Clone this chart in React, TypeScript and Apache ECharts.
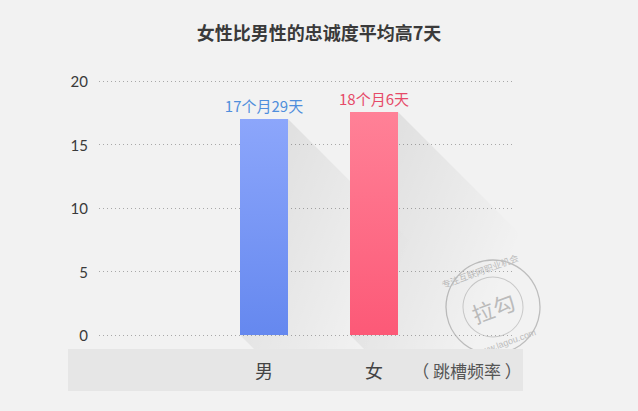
import React, { useEffect, useRef } from "react";
import * as echarts from "echarts";

const titleText = "女性比男性的忠诚度平均高7天";
const categories = ["男", "女"];
const values = [17.0, 17.55];
const valueLabels = ["17个月29天", "18个月6天"];
const labelColors = ["#4f8edc", "#e64a68"];
const barTops = ["#8ca6fb", "#ff8197"];
const barBottoms = ["#6588ef", "#fc5977"];
const yMin = 0;
const yMax = 20;
const yInterval = 5;
const axisNote = "（ 跳槽频率 ）";

const BAR_W = 48;

function clipBelow(points: number[][], yLimit: number): number[][] {
  const out: number[][] = [];
  for (let i = 0; i < points.length; i++) {
    const a = points[i];
    const b = points[(i + 1) % points.length];
    const aIn = a[1] <= yLimit;
    const bIn = b[1] <= yLimit;
    if (aIn) out.push(a);
    if (aIn !== bIn) {
      const t = (yLimit - a[1]) / (b[1] - a[1]);
      out.push([a[0] + t * (b[0] - a[0]), yLimit]);
    }
  }
  return out;
}

export default function App() {
  const ref = useRef<HTMLDivElement>(null);
  useEffect(() => {
    if (!ref.current) return;
    const chart = echarts.init(ref.current, null, { renderer: "svg" });
    const font = "'Noto Sans CJK SC', 'Noto Sans', sans-serif";
    chart.setOption({
      animation: false,
      backgroundColor: "#f2f2f2",
      textStyle: { fontFamily: font },
      title: {
        text: titleText,
        left: "center",
        top: 18,
        textStyle: { fontSize: 18, fontWeight: "bold", color: "#3a3a3a", fontFamily: font },
      },
      grid: [
        { left: 99, right: 123, top: 81, bottom: 76 },
        { left: 209, right: 209, top: 81, bottom: 76 },
      ],
      xAxis: [
        { gridIndex: 0, type: "category", data: ["a"], show: false },
        {
          gridIndex: 1,
          type: "category",
          data: categories,
          z: 10,
          axisLine: { show: false },
          axisTick: { show: false },
          axisLabel: { margin: 26, fontSize: 18, color: "#444", fontFamily: font },
        },
      ],
      yAxis: [
        {
          gridIndex: 0,
          type: "value",
          min: yMin,
          max: yMax,
          interval: yInterval,
          axisLine: { show: false },
          axisTick: { show: false },
          axisLabel: { margin: 11, fontSize: 15, color: "#3a3a3a", fontFamily: "Lato, 'Open Sans', sans-serif" },
          splitLine: { lineStyle: { type: [1, 3], color: "#a8a8a8", width: 1 } },
        },
        { gridIndex: 1, type: "value", min: yMin, max: yMax, show: false, splitLine: { show: false } },
      ],
      series: [
        {
          type: "custom",
          xAxisIndex: 1,
          yAxisIndex: 1,
          z: 1,
          clip: false,
          silent: true,
          data: values.map((v, i) => [i, v]),
          renderItem: (params: any, api: any) => {
            const idx = api.value(0);
            const v = api.value(1);
            const top = api.coord([idx, v]);
            const base = api.coord([idx, 0]);
            const x0 = top[0] - BAR_W / 2;
            const x1 = top[0] + BAR_W / 2;
            const yt = top[1];
            const yb = base[1];
            const L = 300;
            const pts = clipBelow(
              [
                [x0, yb],
                [x0, yt],
                [x1, yt],
                [x1 + L, yt + L],
                [x1 + L, yb + L],
                [x0 + L, yb + L],
              ],
              yb + 14
            );
            return {
              type: "polygon",
              shape: { points: pts },
              style: {
                fill: new echarts.graphic.LinearGradient(
                  x1,
                  yt,
                  x1 + 150,
                  yt + 60,
                  [
                    { offset: 0, color: "rgba(0,0,0,0.075)" },
                    { offset: 1, color: "rgba(0,0,0,0)" },
                  ],
                  true
                ),
              },
            };
          },
        },
        {
          type: "bar",
          xAxisIndex: 1,
          yAxisIndex: 1,
          z: 3,
          barWidth: BAR_W,
          data: values.map((v, i) => ({
            value: v,
            itemStyle: {
              color: new echarts.graphic.LinearGradient(0, 0, 0, 1, [
                { offset: 0, color: barTops[i] },
                { offset: 1, color: barBottoms[i] },
              ]),
            },
            label: {
              show: true,
              position: "top",
              distance: 6,
              formatter: valueLabels[i],
              fontSize: 15,
              color: labelColors[i],
              fontFamily: font,
            },
          })),
        },
      ],
      graphic: [
        {
          type: "rect",
          z: 5,
          shape: { x: 68, y: 349, width: 455, height: 42 },
          style: { fill: "#e6e6e6" },
        },
        {
          type: "text",
          z: 10,
          x: 467,
          y: 370,
          style: {
            text: axisNote,
            fontSize: 17,
            fill: "#555",
            align: "center",
            verticalAlign: "middle",
            fontFamily: font,
          },
        },
        {
          type: "group",
          z: 4,
          x: 493,
          y: 307,
          rotation: 0.35,
          children: [
            { type: "circle", shape: { cx: 0, cy: 0, r: 47 }, style: { fill: "none", stroke: "#bdbdbd", lineWidth: 1.3 } },
            { type: "circle", shape: { cx: 0, cy: 0, r: 30 }, style: { fill: "none", stroke: "#c8c8c8", lineWidth: 1 } },
            {
              type: "text",
              x: 0,
              y: 0,
              style: { text: "拉勾", fontSize: 22, fill: "#bbbbbb", align: "center", verticalAlign: "middle", fontFamily: font },
            },
            {
              type: "text",
              x: 0,
              y: -38,
              style: { text: "专注互联网职业机会", fontSize: 9, fill: "#bdbdbd", align: "center", verticalAlign: "middle", fontFamily: font },
            },
            {
              type: "text",
              x: 0,
              y: 38,
              style: { text: "www.lagou.com", fontSize: 9, fill: "#bdbdbd", align: "center", verticalAlign: "middle", fontFamily: "sans-serif" },
            },
          ],
        },
      ],
    });
    return () => chart.dispose();
  }, []);
  return <div ref={ref} style={{ position: "fixed", left: 0, top: 0, width: 638, height: 411 }} />;
}
